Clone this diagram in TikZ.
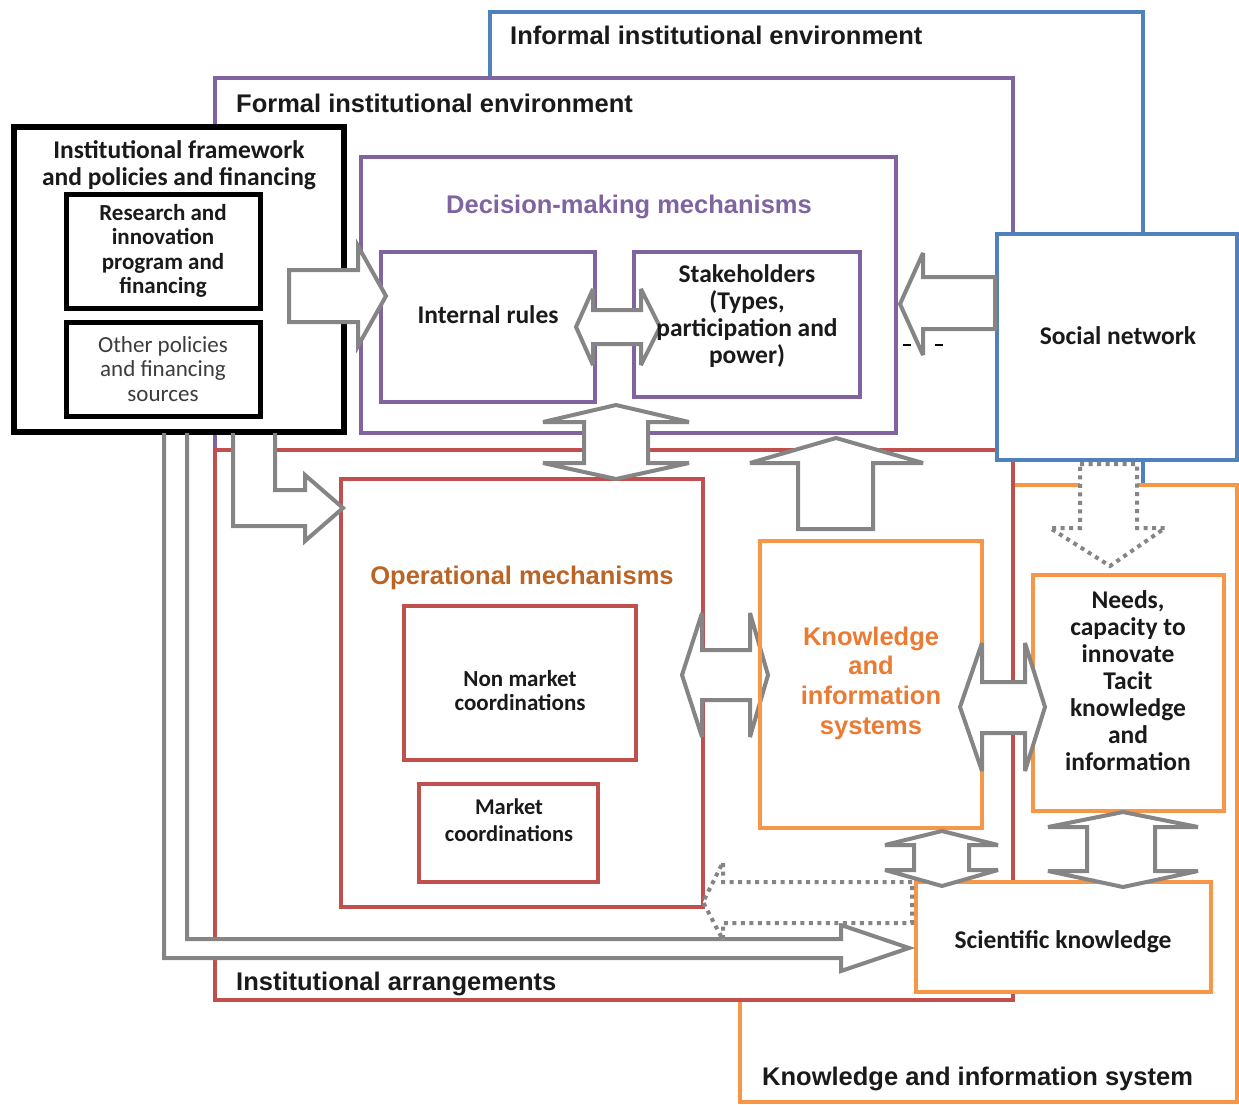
\documentclass[tikz,border=0pt]{standalone}
\usepackage{fontspec}
\setmainfont{Carlito}
\newfontfamily\arialfont{Liberation Sans}
\definecolor{cPurple}{HTML}{8064A2}
\definecolor{cBlue}{HTML}{4F81BD}
\definecolor{cRed}{HTML}{C0504D}
\definecolor{cOrange}{HTML}{F79646}
\definecolor{cGray}{HTML}{858585}
\definecolor{cInk}{HTML}{1A1A1A}
\definecolor{cSoft}{HTML}{3C3C3C}
\definecolor{cBrown}{HTML}{BA6425}
\definecolor{cKnow}{HTML}{EB7A33}
\tikzset{
  frame/.style={rectangle, draw, line width=4pt, fill=white, inner sep=0pt, anchor=center},
  blackframe/.style={frame, draw=black, line width=5.5pt},
  bigtxt/.style={font=\fontsize{25.5}{27}\selectfont\bfseries, text=cInk, align=center, inner sep=0pt, yshift=-2pt},
  smalltxt/.style={font=\fontsize{23}{24.5}\selectfont\bfseries, text=cInk, align=center, inner sep=0pt},
  softtxt/.style={font=\fontsize{23}{24.5}\selectfont, text=cSoft, align=center, inner sep=0pt},
  headtxt/.style={font=\arialfont\bfseries\fontsize{25.5}{29.7}\selectfont, text=cInk, align=center, inner sep=0pt, yshift=-1.5pt},
  blockarrow/.style={draw=cGray, line width=4pt, fill=white, line join=miter, miter limit=4},
  dotarrow/.style={blockarrow, dash pattern=on 4pt off 4.5pt},
}
\begin{document}
\begin{tikzpicture}[x=1pt,y=-1pt]
\useasboundingbox (0,0) rectangle (1239,1104);

% enclosing environments
\node[frame, draw=cBlue, minimum width=653pt, minimum height=475pt] (informal) at (816.5,249.5) {};
\node[frame, draw=cOrange, minimum width=497pt, minimum height=617pt] (kis) at (988.5,793.5) {};
\node[frame, draw=cPurple, minimum width=798pt, minimum height=372pt] (formal) at (614,264) {};
\node[frame, draw=cRed, minimum width=798pt, minimum height=550pt] (arrangements) at (614,725) {};
\node[frame, draw=cBlue, minimum width=240pt, minimum height=226pt] (social) at (1117,347) {};

% institutional framework block
\node[blackframe, minimum width=330pt, minimum height=305pt] (framework) at (179,279.5) {};
\node[blackframe, line width=5pt, minimum width=194pt, minimum height=114pt, smalltxt] (research) at (163,251)
  {Research and\\innovation\\program and\\financing};
\node[blackframe, line width=5pt, minimum width=194pt, minimum height=94pt, softtxt] (other) at (163,369)
  {Other policies\\and financing\\sources};

% decision-making mechanisms
\node[frame, draw=cPurple, minimum width=535pt, minimum height=276pt] (decision) at (628.5,295) {};
\node[frame, draw=cPurple, minimum width=214pt, minimum height=150pt] (internal) at (488,327) {};
\node[frame, draw=cPurple, minimum width=226pt, minimum height=145pt] (stake) at (747,324.5) {};

% operational mechanisms
\node[frame, draw=cRed, minimum width=362pt, minimum height=428pt] (oper) at (522,693) {};
\node[frame, draw=cRed, minimum width=232pt, minimum height=154pt] (nonmarket) at (520,683) {};
\node[frame, draw=cRed, minimum width=179pt, minimum height=98pt] (market) at (508.5,833) {};

% knowledge side
\node[frame, draw=cOrange, minimum width=191pt, minimum height=236pt] (needs) at (1128.5,693) {};
\node[frame, draw=cOrange, minimum width=295pt, minimum height=110pt] (sci) at (1063.5,937) {};

% short dashes beside the social network arrow
\draw[line width=1.6pt, dash pattern=on 8pt off 24pt] (903,345) -- (944,345);

% block arrows
\draw[blockarrow] (289,270) -- (358,270) -- (358,246) -- (386,296) -- (358,346) -- (358,322) -- (289,322) -- cycle;
\draw[blockarrow] (576,327) -- (593,289) -- (593,310) -- (641,310) -- (641,289) -- (660,327)
  -- (641,365) -- (641,344) -- (593,344) -- (593,365) -- cycle;
\draw[blockarrow] (616,405) -- (689,422) -- (648,422) -- (648,463) -- (689,463) -- (616,479)
  -- (543,463) -- (584,463) -- (584,422) -- (543,422) -- cycle;
\draw[blockarrow] (798,529) -- (798,463) -- (750,463) -- (836,438) -- (923,463) -- (873,463) -- (873,529) -- cycle;
\draw[blockarrow] (995,277) -- (923,277) -- (923,253) -- (900,304) -- (923,355) -- (923,329) -- (995,329) -- cycle;
\draw[blockarrow] (682,675) -- (702,613) -- (702,650) -- (750,650) -- (750,613) -- (768,675)
  -- (750,737) -- (750,700) -- (702,700) -- (702,737) -- cycle;
\fill[white] (164,435) -- (164,958) -- (841,958) -- (841,971) -- (909,948) -- (841,925) -- (841,939) -- (187,939) -- (187,435) -- cycle;
\draw[blockarrow, fill=none] (164,433) -- (164,958) -- (841,958) -- (841,971) -- (909,948) -- (841,925) -- (841,939) -- (187,939) -- (187,433);
\fill[white] (233,435) -- (233,526) -- (305,526) -- (305,541) -- (343,508) -- (305,475) -- (305,490) -- (275,490) -- (275,435) -- cycle;
\draw[blockarrow, fill=none] (233,433) -- (233,526) -- (305,526) -- (305,541) -- (343,508) -- (305,475) -- (305,490) -- (275,490) -- (275,433);
\draw[dotarrow] (1080,464) -- (1137,464) -- (1137,528) -- (1165,528) -- (1110,566) -- (1050,528) -- (1080,528) -- cycle;
\draw[dotarrow] (912,882) -- (723,882) -- (723,862) -- (703,902) -- (723,940) -- (723,923) -- (912,923) -- cycle;

% knowledge and information systems box
\node[frame, fill=none, draw=cOrange, minimum width=222pt, minimum height=287pt] (kinfo) at (871,684.5) {};

\draw[blockarrow] (960,707) -- (982,643) -- (982,682) -- (1025,682) -- (1025,643) -- (1045,707)
  -- (1025,771) -- (1025,733) -- (982,733) -- (982,771) -- cycle;
\draw[blockarrow] (942,831) -- (998,845) -- (969,845) -- (969,870) -- (998,870) -- (942,886)
  -- (885,870) -- (914,870) -- (914,845) -- (885,845) -- cycle;
\draw[blockarrow] (1123,812) -- (1198,827) -- (1155,827) -- (1155,871) -- (1198,871) -- (1123,887)
  -- (1048,871) -- (1087,871) -- (1087,827) -- (1048,827) -- cycle;

% labels
\node[headtxt, anchor=west] (tInformal) at (510,34) {Informal institutional environment};
\node[headtxt, anchor=west] (tFormal) at (236,102) {Formal institutional environment};
\node[headtxt, anchor=west] (tArr) at (236,982) {Institutional arrangements};
\node[headtxt, anchor=west] (tKis) at (762,1077) {Knowledge and information system};
\node[bigtxt] (tFramework) at (179,163.5) {Institutional framework\\and policies and financing};
\node[headtxt, text=cPurple] (tDecision) at (629,205) {Decision-making mechanisms};
\node[bigtxt] (tInternal) at (488,313) {Internal rules};
\node[bigtxt] (tStake) at (747,314.5) {Stakeholders\\(Types,\\participation and\\power)};
\node[bigtxt] (tSocial) at (1118,334) {Social network};
\node[headtxt, text=cBrown] (tOper) at (522,576) {Operational mechanisms};
\node[smalltxt] (tNonmarket) at (520,690.5) {Non market\\coordinations};
\node[smalltxt, font=\fontsize{22.5}{27}\selectfont\bfseries] (tMarket) at (509,820.5) {Market\\coordinations};
\node[headtxt, text=cKnow] (tKnow) at (871,681.5) {Knowledge\\and\\information\\systems};
\node[bigtxt] (tNeeds) at (1128,679) {Needs,\\capacity to\\innovate\\Tacit\\knowledge\\and\\information};
\node[bigtxt] (tSci) at (1063,940) {Scientific knowledge};
\end{tikzpicture}
\end{document}
